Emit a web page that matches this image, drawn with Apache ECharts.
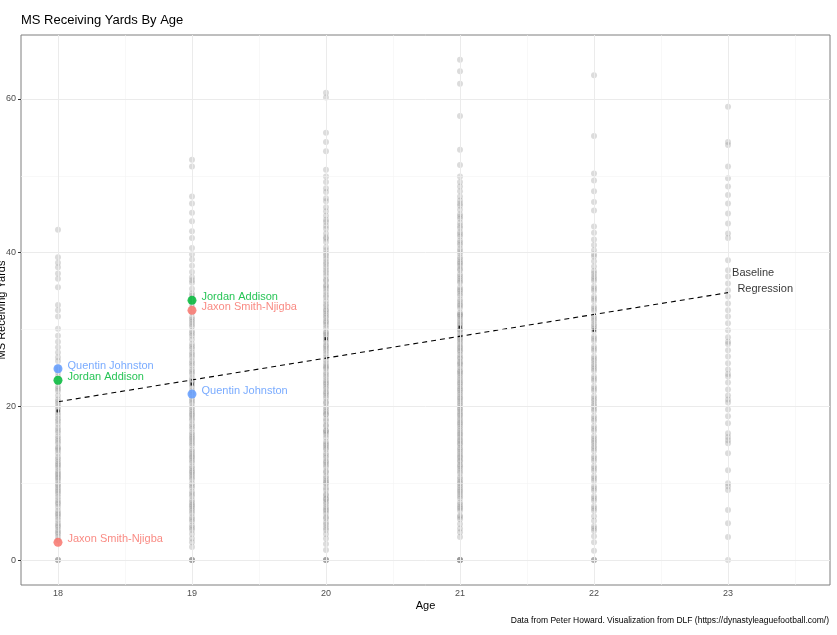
<!DOCTYPE html>
<html>
<head>
<meta charset="utf-8">
<script src="https://cdn.jsdelivr.net/npm/echarts@6/dist/echarts.min.js"></script>
<style>html,body{margin:0;padding:0;background:#fff;}#c{width:837px;height:635px;}</style>
</head>
<body>
<div id="c"></div>
<script>
// ---- data ----
const xTicks = [18, 19, 20, 21, 22, 23];
const xMinorTicks = [18.5, 19.5, 20.5, 21.5, 22.5, 23.5];
const yTicks = [0, 20, 40, 60];
const yMinorTicks = [10, 30, 50];

const ms18 = [43.0, 39.4, 38.7, 38.1, 37.3, 36.6, 35.5, 33.2, 32.5, 31.7, 30.1, 29.2, 28.4, 27.7, 27.0, 26.4, 25.9, 25.1, 24.4, 23.9, 23.1, 22.6, 22.0, 21.4, 20.9, 20.3, 19.9, 19.2, 18.8, 18.1, 17.7, 17.2, 16.6, 16.1, 15.8, 15.2, 14.7, 14.3, 13.9, 13.4, 12.8, 12.5, 12.0, 11.6, 11.1, 10.8, 10.3, 9.9, 9.4, 9.1, 8.6, 8.2, 7.8, 7.3, 6.9, 6.4, 6.1, 5.6, 5.2, 4.8, 4.3, 3.9, 3.4, 3.0, 2.6, 0, 0, 0, 19.6, 18.4, 15.5, 13.1, 11.3, 9.7, 7.5, 5.9, 4.5, 3.6, 8.9, 10.6, 12.3, 14.5, 16.9, 20.6, 22.3, 24.8];
const ms19 = [52.1, 51.2, 47.3, 46.4, 45.2, 44.1, 42.8, 41.9, 40.6, 39.8, 39.1, 38.3, 37.5, 36.8, 36.1, 35.3, 34.7, 34.0, 33.4, 32.9, 32.2, 31.6, 31.0, 30.4, 29.8, 29.2, 28.7, 28.1, 27.5, 27.0, 26.4, 25.9, 25.3, 24.8, 24.2, 23.7, 23.2, 22.6, 22.1, 21.5, 21.0, 20.4, 19.9, 19.3, 18.8, 18.2, 17.7, 17.1, 16.6, 16.0, 15.5, 14.9, 14.4, 13.8, 13.3, 12.7, 12.2, 11.6, 11.1, 10.5, 10.0, 9.4, 8.9, 8.3, 7.8, 7.2, 6.7, 6.1, 5.6, 5.0, 4.5, 3.9, 3.4, 2.8, 2.3, 1.7, 0, 0, 0, 0, 29.5, 27.8, 25.6, 23.4, 21.8, 19.6, 17.4, 15.8, 13.5, 11.9, 9.7, 7.5, 5.3, 24.5, 20.7, 16.3, 13.0, 8.6, 31.3, 34.4, 36.4, 18.5, 14.1, 10.8, 6.4, 33.7, 30.7, 26.7, 22.9, 19.0, 15.2, 11.4, 7.0, 4.2];
const ms20 = [60.8, 60.2, 55.6, 54.4, 53.2, 50.8, 49.9, 49.2, 48.4, 47.9, 47.1, 46.7, 45.9, 45.4, 44.8, 44.3, 43.5, 43.1, 42.5, 41.8, 41.4, 40.7, 40.3, 39.6, 39.2, 38.5, 38.1, 37.4, 37.0, 36.5, 35.8, 35.3, 34.9, 34.2, 33.7, 33.3, 32.6, 32.1, 31.8, 31.1, 30.6, 30.2, 29.5, 29.0, 28.7, 28.0, 27.5, 27.2, 26.4, 26.0, 25.6, 24.9, 24.4, 24.1, 23.4, 22.9, 22.6, 21.9, 21.4, 21.1, 20.4, 19.9, 19.6, 18.9, 18.4, 18.1, 17.4, 16.9, 16.6, 15.9, 15.4, 15.1, 14.4, 13.9, 13.6, 12.9, 12.4, 12.1, 11.4, 10.9, 10.6, 9.9, 9.4, 9.1, 8.4, 7.9, 7.6, 6.9, 6.4, 6.1, 5.4, 4.9, 4.6, 3.9, 3.4, 2.8, 2.1, 1.3, 0, 0, 0, 0, 38.8, 36.3, 34.5, 33.0, 31.5, 29.7, 28.4, 26.8, 25.1, 23.8, 22.3, 20.6, 19.3, 17.6, 16.3, 14.6, 13.3, 11.6, 10.3, 8.6, 7.3, 5.6, 44.0, 42.0, 39.9, 37.7, 35.6, 32.4, 30.9, 29.3, 27.8, 25.3, 23.1, 21.7, 19.0, 16.8, 14.9, 12.7, 10.1, 8.0, 6.6, 4.2];
const ms21 = [65.1, 63.6, 62.0, 57.8, 53.4, 51.4, 49.9, 49.2, 48.6, 48.0, 47.3, 46.8, 46.1, 45.6, 45.0, 44.4, 43.9, 43.2, 42.7, 42.1, 41.6, 41.0, 40.5, 39.9, 39.4, 38.8, 38.3, 37.7, 37.2, 36.6, 36.1, 35.5, 35.0, 34.4, 33.9, 33.3, 32.8, 32.2, 31.7, 31.1, 30.6, 30.0, 29.5, 28.9, 28.4, 27.8, 27.3, 26.7, 26.2, 25.6, 25.1, 24.5, 24.0, 23.4, 22.9, 22.3, 21.8, 21.2, 20.7, 20.1, 19.6, 19.0, 18.5, 17.9, 17.4, 16.8, 16.3, 15.7, 15.2, 14.6, 14.1, 13.5, 13.0, 12.4, 11.9, 11.3, 10.8, 10.2, 9.7, 9.1, 8.6, 8.0, 7.5, 6.9, 6.4, 5.8, 5.3, 4.7, 4.1, 3.6, 3.0, 0, 0, 0, 0, 0, 44.7, 42.4, 40.2, 38.6, 36.9, 35.2, 33.6, 32.0, 30.3, 28.7, 27.1, 25.4, 23.7, 22.1, 20.4, 18.8, 17.1, 15.5, 13.8, 12.2, 10.5, 8.9, 7.2, 5.6, 39.1, 34.7, 31.4, 29.2, 26.4, 24.3, 21.5, 19.3, 16.5, 14.4, 11.6, 9.4, 43.5, 41.3, 37.9, 36.3, 33.1, 30.8, 29.9, 27.6, 25.8, 23.1, 21.0, 19.8, 17.7, 15.0, 13.3, 10.0, 8.3, 6.7, 46.4, 31.9, 28.1, 24.7, 22.6, 18.2, 16.0, 12.8];
const ms22 = [63.1, 55.2, 50.3, 49.4, 48.0, 46.6, 45.5, 43.4, 42.6, 41.7, 41.0, 40.3, 39.5, 38.9, 38.2, 37.6, 36.9, 36.3, 35.6, 35.0, 34.3, 33.7, 33.0, 32.4, 31.7, 31.1, 30.4, 29.8, 29.1, 28.5, 27.8, 27.2, 26.5, 25.9, 25.2, 24.6, 23.9, 23.3, 22.6, 22.0, 21.3, 20.7, 20.0, 19.4, 18.7, 18.1, 17.4, 16.8, 16.1, 15.5, 14.8, 14.2, 13.5, 12.9, 12.2, 11.6, 10.9, 10.3, 9.6, 9.0, 8.3, 7.7, 7.0, 6.4, 5.7, 5.1, 4.4, 3.8, 3.1, 2.3, 1.2, 0, 0, 0, 36.6, 34.0, 31.4, 28.8, 26.2, 23.6, 21.0, 18.4, 15.8, 13.2, 10.6, 8.0, 30.1, 24.9, 19.7, 14.5, 39.8, 37.3, 35.3, 32.7, 30.7, 27.5, 25.5, 22.3, 20.3, 17.1, 15.2, 11.9, 9.3, 6.7, 4.1];
const ms23 = [59.0, 54.4, 54.0, 51.2, 49.7, 48.6, 47.5, 46.4, 45.1, 43.8, 42.5, 41.9, 39.0, 37.7, 36.9, 36.0, 35.1, 34.3, 33.4, 32.5, 31.7, 30.8, 29.9, 29.0, 28.1, 27.3, 26.5, 25.6, 24.8, 23.9, 23.1, 22.2, 21.4, 20.5, 19.6, 18.7, 17.8, 16.5, 15.2, 13.9, 11.7, 10.0, 9.1, 6.5, 4.8, 3.0, 0, 28.4, 24.2, 20.9, 16.0, 15.6, 9.6];

const meanAges = [18, 19, 20, 21, 22];
const meanMs = [19.4, 22.9, 28.8, 30.3, 29.9];

const regAges = [18, 23];
const regMs = [20.6, 34.8];

const players = ['Quentin Johnston', 'Jordan Addison', 'Jaxon Smith-Njigba'];
const playerAges = [18, 19];
const qjMs = [24.9, 21.6];
const jaMs = [23.4, 33.8];
const jsnMs = [2.3, 32.5];

const regLabelText = ['Baseline', 'Regression'];
const regLabelPos = [[23.03, 37.4], [23.07, 35.3]];

// ---- chart ----
const font = "'Liberation Sans', Arial, sans-serif";
const chart = echarts.init(document.getElementById('c'), null, {renderer: 'canvas'});

const cloud = [];
[[18, ms18], [19, ms19], [20, ms20], [21, ms21], [22, ms22], [23, ms23]].forEach(([age, arr]) => {
  arr.forEach(v => cloud.push([age, v]));
});

function playerSeries(name, values, color) {
  return {
    type: 'scatter', name: name, z: 5,
    data: playerAges.map((a, i) => [a, values[i]]),
    symbolSize: 9,
    itemStyle: {color: color, opacity: 0.85},
    label: {show: true, position: 'right', distance: 5, offset: [0, -3], formatter: name,
      color: color, fontSize: 11, fontFamily: font},
    silent: true
  };
}

const option = {
  animation: false,
  textStyle: {fontFamily: font},
  title: [
    {text: 'MS Receiving Yards By Age', left: 16, top: 9,
      textStyle: {fontSize: 13, fontWeight: 'normal', color: '#000', fontFamily: font}},
    {text: 'Data from Peter Howard. Visualization from DLF (https://dynastyleaguefootball.com/)',
      right: 8, top: 616, padding: 0,
      textStyle: {fontSize: 8.5, fontWeight: 'normal', color: '#000', fontFamily: font}}
  ],
  grid: {left: 21, right: 7, top: 35, bottom: 50, show: true, borderColor: '#7f7f7f', borderWidth: 1,
    backgroundColor: '#fff', containLabel: false, outerBoundsMode: 'none'},
  xAxis: {
    type: 'value', min: 17.724, max: 23.761,
    axisLine: {show: false},
    axisTick: {show: true, length: 3, lineStyle: {color: '#333'}, customValues: xTicks},
    axisLabel: {customValues: xTicks, color: '#4d4d4d', fontSize: 9, margin: 4},
    splitLine: {show: false},
    name: 'Age', nameLocation: 'middle', nameGap: 15, nameMoveOverlap: false,
    nameTextStyle: {fontSize: 11, color: '#000'}
  },
  yAxis: {
    type: 'value', min: -3.25, max: 68.33,
    axisLine: {show: false},
    axisTick: {show: true, length: 3, lineStyle: {color: '#333'}, customValues: yTicks},
    axisLabel: {customValues: yTicks, color: '#4d4d4d', fontSize: 9, margin: 5},
    splitLine: {show: false},
    name: 'MS Receiving Yards', nameLocation: 'middle', nameGap: 14, nameMoveOverlap: false,
    nameTextStyle: {fontSize: 11, color: '#000'}
  },
  series: [
    {
      type: 'scatter', data: [], z: 1, silent: true,
      markLine: {
        silent: true, symbol: ['none', 'none'], label: {show: false}, animation: false,
        lineStyle: {color: '#f3f3f3', width: 0.6, type: 'solid'},
        data: xMinorTicks.map(v => ({xAxis: v})).concat(yMinorTicks.map(v => ({yAxis: v})))
      }
    },
    {
      type: 'scatter', data: [], z: 1, silent: true,
      markLine: {
        silent: true, symbol: ['none', 'none'], label: {show: false}, animation: false,
        lineStyle: {color: '#ebebeb', width: 1, type: 'solid'},
        data: xTicks.map(v => ({xAxis: v})).concat(yTicks.map(v => ({yAxis: v})))
      }
    },
    {
      type: 'scatter', data: cloud, z: 2, silent: true,
      symbolSize: 6, itemStyle: {color: '#808080', opacity: 0.28, borderWidth: 0}
    },
    {
      type: 'scatter', data: meanAges.map((a, i) => [a, meanMs[i]]), z: 3, silent: true,
      symbol: 'rect', symbolSize: 3, itemStyle: {color: '#000'}
    },
    {
      type: 'line', data: regAges.map((a, i) => [a, regMs[i]]), z: 4, silent: true,
      symbol: 'none', lineStyle: {color: '#000', width: 1.1, type: [5, 4]}
    },
    playerSeries(players[0], qjMs, '#619CFF'),
    playerSeries(players[1], jaMs, '#00BA38'),
    playerSeries(players[2], jsnMs, '#F8766D'),
    {
      type: 'scatter', z: 5, silent: true, symbolSize: 0,
      data: regLabelPos.map((p, i) => ({value: p, name: regLabelText[i]})),
      label: {show: true, position: 'right', distance: 0, formatter: p => p.name,
        color: '#000', fontSize: 11}
    }
  ]
};
chart.setOption(option);
</script>
</body>
</html>
